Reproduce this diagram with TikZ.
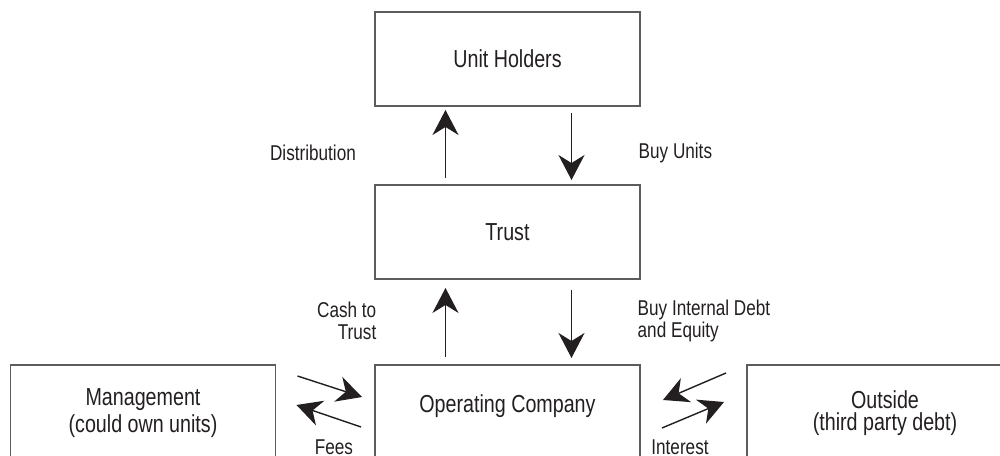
\documentclass[tikz,border=0pt]{standalone}
\usepackage{fontspec}
\setmainfont{Liberation Sans}[FakeStretch=0.8]
\usetikzlibrary{arrows.meta,calc}
\definecolor{flowink}{HTML}{231F20}
\definecolor{flowedge}{HTML}{5C5C5C}
\tikzset{
  box/.style={draw=flowedge, line width=0.55pt, minimum width=26.5mm, minimum height=9.4mm, inner sep=0pt},
  boxtxt/.style={font={\fontsize{7}{6.3}\selectfont}, text=flowink, align=center, inner sep=0pt},
  tag/.style={font={\fontsize{6.1}{6.3}\selectfont}, text=flowink, inner sep=0pt},
  flow/.style={-{Stealth[length=2.5mm, width=2.6mm, inset=0.8mm]}, line width=0.4pt, color=flowink},
}

\begin{document}
\begin{tikzpicture}[x=0.1mm, y=-0.1mm]
  \useasboundingbox (0,0) rectangle (1000,456);

  % top of the chain
  \node[box, boxtxt] (uh) at (507.5,59) {Unit Holders};
  \node[box, boxtxt] (trust) at (507.5,232) {Trust};

  % bottom row runs off the page, text set on its own
  \node[box, anchor=north, minimum height=12mm] (mgmt) at (143,364) {};
  \node[box, anchor=north, minimum height=12mm] (opco) at (507.5,364) {};
  \node[box, anchor=north, minimum height=12mm, minimum width=27.6mm] (outside) at (885,364) {};
  \node[boxtxt] (mgmttxt) at (143,413) {Management\\(could own units)};
  \node[boxtxt] (opcotxt) at (507.5,406) {Operating Company};
  \node[boxtxt] (outsidetxt) at (885,413) {Outside\\(third party debt)};

  % unit holders <-> trust
  \draw[flow] ($(trust.north)+(-62,-6)$) -- ($(uh.south)+(-62,3)$);
  \draw[flow] ($(uh.south)+(64,6)$) -- ($(trust.north)+(64,-4)$);
  \node[tag] (distlbl) at (313,153) {Distribution};
  \node[tag, anchor=west] (buylbl) at (638,153) {Buy Units};

  % trust <-> operating company
  \draw[flow] ($(opco.north)+(-62,-7)$) -- ($(trust.south)+(-62,8)$);
  \draw[flow] ($(trust.south)+(64,10)$) -- ($(opco.north)+(64,-6)$);
  \node[tag, anchor=east, align=right] (cashlbl) at (377,321) {Cash to\\Trust};
  \node[tag, anchor=west, align=left] (debtlbl) at (637,321) {Buy Internal Debt\\and Equity};

  % management <-> operating company
  \draw[flow] ($(mgmt.north east)+(21,12)$) -- ($(opco.north west)+(-12,33)$);
  \draw[flow] ($(opco.north west)+(-13,63)$) -- ($(mgmt.north east)+(20,41)$);
  \node[tag] (feelbl) at (334,447) {Fees};

  % outside <-> operating company
  \draw[flow] ($(outside.north west)+(-20,9)$) -- ($(opco.north east)+(22,36)$);
  \draw[flow] ($(opco.north east)+(21,64)$) -- ($(outside.north west)+(-22,38)$);
  \node[tag] (intlbl) at (680,447) {Interest};
\end{tikzpicture}
\end{document}
